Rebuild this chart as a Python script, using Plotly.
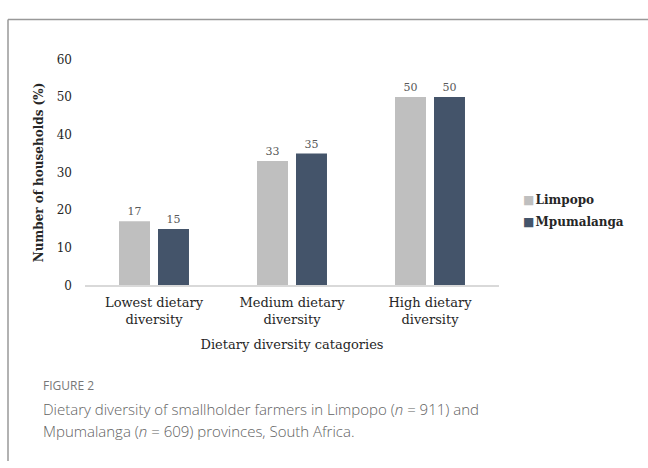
import plotly.graph_objects as go

# Dietary diversity shares (% of households) by province
categories = ["Lowest dietary<br>diversity", "Medium dietary<br>diversity", "High dietary<br>diversity"]
limpopo = [17, 33, 50]
mpumalanga = [15, 35, 50]
series_names = ["Limpopo", "Mpumalanga"]
series_colors = ["#BFBFBF", "#44546A"]
y_ticks = [0, 10, 20, 30, 40, 50, 60]

serif = "DejaVu Serif"
sans = "Open Sans"

fig = go.Figure()
for name, vals, color in zip(series_names, [limpopo, mpumalanga], series_colors):
    fig.add_trace(go.Bar(
        x=categories, y=vals, name=name,
        marker=dict(color=color, line=dict(width=0)),
        text=vals, texttemplate="%{text}", textposition="outside",
        textfont=dict(family=serif, size=11, color="#595959"),
        cliponaxis=False, showlegend=False,
    ))

fig.update_layout(
    width=648, height=468,
    margin=dict(l=0, r=0, t=0, b=0),
    paper_bgcolor="white", plot_bgcolor="white",
    barmode="group", bargap=0.435, bargroupgap=0.205,
    font=dict(family=serif, color="#262626"),
    xaxis=dict(
        domain=[85 / 648, 499 / 648],
        showline=True, linecolor="#D9D9D9", linewidth=1.5,
        ticks="", showgrid=False, zeroline=False,
        tickfont=dict(family=serif, size=13, color="#262626"),
        ticklabelstandoff=4,
        title=dict(text="Dietary diversity catagories",
                   font=dict(family=serif, size=13, color="#262626"),
                   standoff=14),
    ),
    yaxis=dict(
        domain=[1 - 287 / 468, 1 - 54 / 468],
        range=[0, 60], tickvals=y_ticks,
        showline=False, ticks="", showgrid=False, zeroline=False,
        tickfont=dict(family=serif, size=12, color="#262626"),
        ticklabelstandoff=12,
        title=dict(text="<b>Number of households (%)</b>",
                   font=dict(family=serif, size=12, color="#262626"),
                   standoff=10),
    ),
)

# legend drawn as text rows beside the plot
for i, (name, color) in enumerate(zip(series_names, series_colors)):
    fig.add_annotation(
        xref="paper", yref="paper", x=521 / 648, y=1 - (199 + 23 * i) / 468,
        xanchor="left", yanchor="middle", showarrow=False,
        text=f"<span style='color:{color}'>■</span>\u200a<b>{name}</b>",
        font=dict(family=serif, size=12, color="#262626"),
    )

# figure caption
fig.add_annotation(
    xref="paper", yref="paper", x=41 / 648, y=1 - 390 / 468,
    xanchor="left", yanchor="middle", showarrow=False,
    text="FIGURE 2", font=dict(family=sans, size=12, color="#777777"),
)
caption_lines = [
    "Dietary diversity of smallholder farmers in Limpopo (<i>n</i> = 911) and",
    "Mpumalanga (<i>n</i> = 609) provinces, South Africa.",
]
for i, line in enumerate(caption_lines):
    fig.add_annotation(
        xref="paper", yref="paper", x=41 / 648, y=1 - (414 + 23 * i) / 468,
        xanchor="left", yanchor="middle", showarrow=False, align="left",
        text=line,
        font=dict(family=sans, size=15, color="#626262", weight=300),
    )

# frame lines along the top and left edges
fig.add_shape(type="line", xref="paper", yref="paper",
              x0=8 / 648, x1=1, y0=1 - 13 / 468, y1=1 - 13 / 468,
              line=dict(color="#999999", width=1.5))
fig.add_shape(type="line", xref="paper", yref="paper",
              x0=8 / 648, x1=8 / 648, y0=0, y1=1 - 13 / 468,
              line=dict(color="#999999", width=1.5))

fig.write_html("out.html")
